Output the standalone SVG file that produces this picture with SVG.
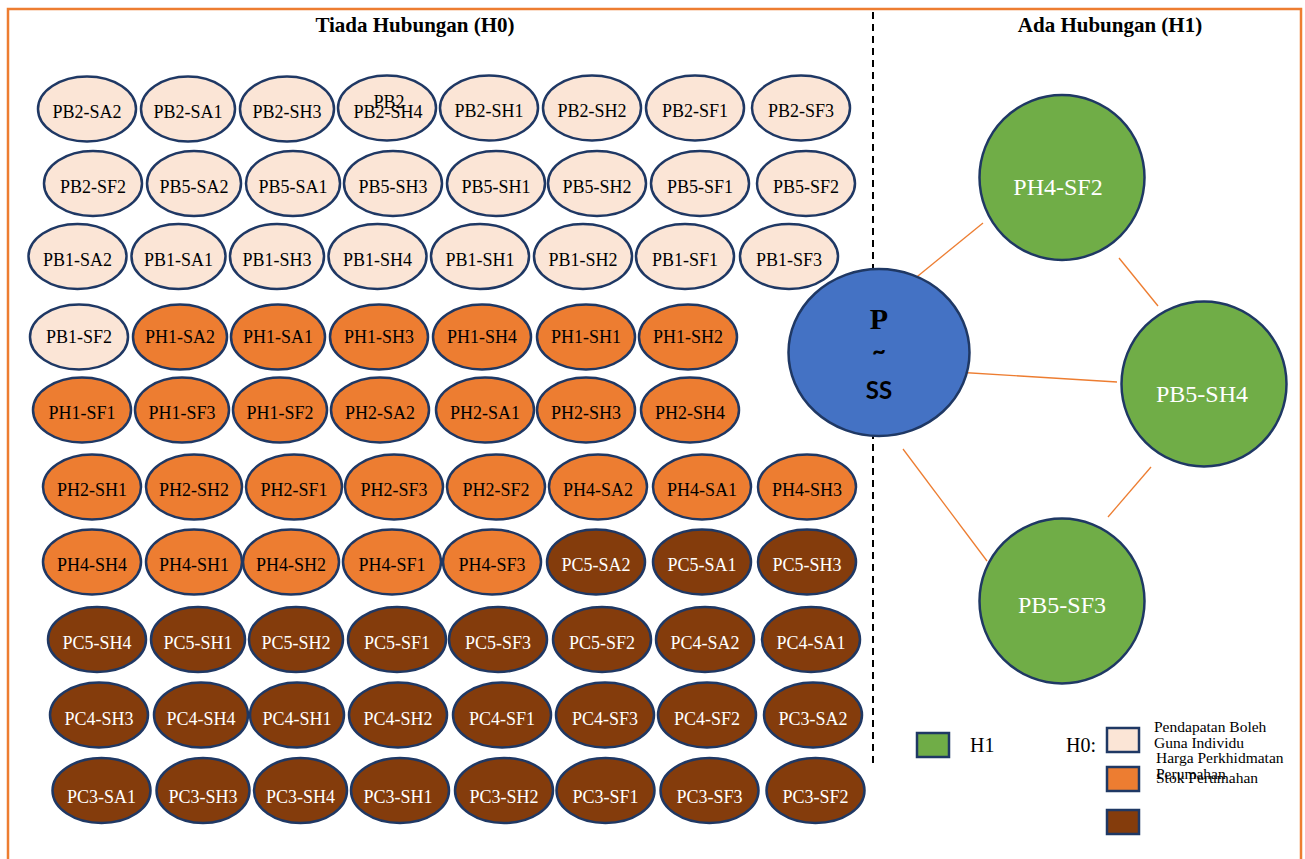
<svg xmlns="http://www.w3.org/2000/svg" width="1305" height="859" viewBox="0 0 1305 859">
<style>
.lt ellipse{fill:#fbe5d6}
.or ellipse{fill:#ed7d31}
.br ellipse{fill:#843c0c}
.n ellipse{stroke:#1f3864;stroke-width:2.5}
.n text{font-family:"Liberation Serif","Times New Roman",serif;font-size:18px;text-anchor:middle;fill:#000}
.br text{fill:#fff}
.g circle{fill:#70ad47;stroke:#1f3864;stroke-width:2.5}
.g text{font-family:"Liberation Serif","Times New Roman",serif;font-size:24px;text-anchor:middle;fill:#fff}
.ttl{font-family:"Liberation Serif","Times New Roman",serif;font-size:21px;font-weight:bold;text-anchor:middle;fill:#000}
.lg{font-family:"Liberation Serif","Times New Roman",serif;font-size:15.5px;fill:#000}
.lgb{font-family:"Liberation Serif","Times New Roman",serif;font-size:20px;fill:#000}
.sq{stroke:#1f3864;stroke-width:2.5}
.conn line{stroke:#ed7d31;stroke-width:1.3}
</style>
<rect x="8" y="9" width="1293" height="862" fill="none" stroke="#ed7d31" stroke-width="2.5"/>
<line x1="873" y1="12" x2="873" y2="766" stroke="#000" stroke-width="2" stroke-dasharray="7 5"/>
<text class="ttl" x="415" y="32">Tiada Hubungan (H0)</text>
<text class="ttl" x="1110" y="32">Ada Hubungan (H1)</text>

<g id="row1">
<g id="n-PB2-SA2" class="n lt"><ellipse cx="87" cy="109" rx="49" ry="32.5"/><text x="87" y="118">PB2-SA2</text></g>
<g id="n-PB2-SA1" class="n lt"><ellipse cx="188" cy="109" rx="47" ry="32.5"/><text x="188" y="118">PB2-SA1</text></g>
<g id="n-PB2-SH3" class="n lt"><ellipse cx="287" cy="109" rx="47" ry="32.5"/><text x="287" y="118">PB2-SH3</text></g>
<g id="n-PB2-SH4" class="n lt"><ellipse cx="387" cy="108" rx="49" ry="32.5"/><text x="389" y="108">PB2</text><text x="388" y="118">PB2-SH4</text></g>
<g id="n-PB2-SH1" class="n lt"><ellipse cx="489" cy="108" rx="49" ry="32.5"/><text x="489" y="117">PB2-SH1</text></g>
<g id="n-PB2-SH2" class="n lt"><ellipse cx="592" cy="108" rx="49" ry="32.5"/><text x="592" y="117">PB2-SH2</text></g>
<g id="n-PB2-SF1" class="n lt"><ellipse cx="695" cy="108" rx="49" ry="32.5"/><text x="695" y="117">PB2-SF1</text></g>
<g id="n-PB2-SF3" class="n lt"><ellipse cx="801" cy="108" rx="49" ry="32.5"/><text x="801" y="117">PB2-SF3</text></g>
</g>

<g id="row2">
<g id="n-PB2-SF2" class="n lt"><ellipse cx="93" cy="183.5" rx="49" ry="32.5"/><text x="93" y="193">PB2-SF2</text></g>
<g id="n-PB5-SA2" class="n lt"><ellipse cx="194" cy="183.5" rx="47" ry="32.5"/><text x="194" y="193">PB5-SA2</text></g>
<g id="n-PB5-SA1" class="n lt"><ellipse cx="293" cy="183.5" rx="47" ry="32.5"/><text x="293" y="193">PB5-SA1</text></g>
<g id="n-PB5-SH3" class="n lt"><ellipse cx="393" cy="183.5" rx="49" ry="32.5"/><text x="393" y="193">PB5-SH3</text></g>
<g id="n-PB5-SH1" class="n lt"><ellipse cx="496" cy="183.5" rx="49" ry="32.5"/><text x="496" y="193">PB5-SH1</text></g>
<g id="n-PB5-SH2" class="n lt"><ellipse cx="597" cy="183.5" rx="49" ry="32.5"/><text x="597" y="193">PB5-SH2</text></g>
<g id="n-PB5-SF1" class="n lt"><ellipse cx="700" cy="183.5" rx="49" ry="32.5"/><text x="700" y="193">PB5-SF1</text></g>
<g id="n-PB5-SF2" class="n lt"><ellipse cx="806" cy="183.5" rx="49" ry="32.5"/><text x="806" y="193">PB5-SF2</text></g>
</g>

<g id="row3">
<g id="n-PB1-SA2" class="n lt"><ellipse cx="77.5" cy="256.5" rx="49" ry="32.5"/><text x="77.5" y="266">PB1-SA2</text></g>
<g id="n-PB1-SA1" class="n lt"><ellipse cx="178.5" cy="256.5" rx="47" ry="32.5"/><text x="178.5" y="266">PB1-SA1</text></g>
<g id="n-PB1-SH3" class="n lt"><ellipse cx="277" cy="256.5" rx="47" ry="32.5"/><text x="277" y="266">PB1-SH3</text></g>
<g id="n-PB1-SH4" class="n lt"><ellipse cx="377.5" cy="256.5" rx="49" ry="32.5"/><text x="377.5" y="266">PB1-SH4</text></g>
<g id="n-PB1-SH1" class="n lt"><ellipse cx="480" cy="256.5" rx="49" ry="32.5"/><text x="480" y="266">PB1-SH1</text></g>
<g id="n-PB1-SH2" class="n lt"><ellipse cx="583" cy="256.5" rx="49" ry="32.5"/><text x="583" y="266">PB1-SH2</text></g>
<g id="n-PB1-SF1" class="n lt"><ellipse cx="685" cy="256.5" rx="49" ry="32.5"/><text x="685" y="266">PB1-SF1</text></g>
<g id="n-PB1-SF3" class="n lt"><ellipse cx="789" cy="256.5" rx="49" ry="32.5"/><text x="789" y="266">PB1-SF3</text></g>
</g>

<g id="row4">
<g id="n-PB1-SF2" class="n lt"><ellipse cx="79" cy="337" rx="49" ry="32.5"/><text x="79" y="343">PB1-SF2</text></g>
<g id="n-PH1-SA2" class="n or"><ellipse cx="180" cy="337" rx="47" ry="32.5"/><text x="180" y="343">PH1-SA2</text></g>
<g id="n-PH1-SA1" class="n or"><ellipse cx="278" cy="337" rx="47" ry="32.5"/><text x="278" y="343">PH1-SA1</text></g>
<g id="n-PH1-SH3" class="n or"><ellipse cx="379" cy="337" rx="49" ry="32.5"/><text x="379" y="343">PH1-SH3</text></g>
<g id="n-PH1-SH4" class="n or"><ellipse cx="482" cy="337" rx="49" ry="32.5"/><text x="482" y="343">PH1-SH4</text></g>
<g id="n-PH1-SH1" class="n or"><ellipse cx="586" cy="337" rx="49" ry="32.5"/><text x="586" y="343">PH1-SH1</text></g>
<g id="n-PH1-SH2" class="n or"><ellipse cx="688" cy="337" rx="49" ry="32.5"/><text x="688" y="343">PH1-SH2</text></g>
</g>

<g id="row5">
<g id="n-PH1-SF1" class="n or"><ellipse cx="82" cy="410" rx="49" ry="32.5"/><text x="82" y="419">PH1-SF1</text></g>
<g id="n-PH1-SF3" class="n or"><ellipse cx="182" cy="410" rx="47" ry="32.5"/><text x="182" y="419">PH1-SF3</text></g>
<g id="n-PH1-SF2" class="n or"><ellipse cx="280" cy="410" rx="47" ry="32.5"/><text x="280" y="419">PH1-SF2</text></g>
<g id="n-PH2-SA2" class="n or"><ellipse cx="380" cy="410" rx="49" ry="32.5"/><text x="380" y="419">PH2-SA2</text></g>
<g id="n-PH2-SA1" class="n or"><ellipse cx="485" cy="410" rx="49" ry="32.5"/><text x="485" y="419">PH2-SA1</text></g>
<g id="n-PH2-SH3" class="n or"><ellipse cx="586" cy="410" rx="49" ry="32.5"/><text x="586" y="419">PH2-SH3</text></g>
<g id="n-PH2-SH4" class="n or"><ellipse cx="690" cy="410" rx="49" ry="32.5"/><text x="690" y="419">PH2-SH4</text></g>
</g>

<g id="row6">
<g id="n-PH2-SH1" class="n or"><ellipse cx="92" cy="487" rx="49" ry="32.5"/><text x="92" y="496">PH2-SH1</text></g>
<g id="n-PH2-SH2" class="n or"><ellipse cx="194" cy="487" rx="48" ry="32.5"/><text x="194" y="496">PH2-SH2</text></g>
<g id="n-PH2-SF1" class="n or"><ellipse cx="294" cy="487" rx="48" ry="32.5"/><text x="294" y="496">PH2-SF1</text></g>
<g id="n-PH2-SF3" class="n or"><ellipse cx="394" cy="487" rx="49" ry="32.5"/><text x="394" y="496">PH2-SF3</text></g>
<g id="n-PH2-SF2" class="n or"><ellipse cx="496" cy="487" rx="49" ry="32.5"/><text x="496" y="496">PH2-SF2</text></g>
<g id="n-PH4-SA2" class="n or"><ellipse cx="598" cy="487" rx="49" ry="32.5"/><text x="598" y="496">PH4-SA2</text></g>
<g id="n-PH4-SA1" class="n or"><ellipse cx="702" cy="487" rx="49" ry="32.5"/><text x="702" y="496">PH4-SA1</text></g>
<g id="n-PH4-SH3" class="n or"><ellipse cx="807" cy="487" rx="49" ry="32.5"/><text x="807" y="496">PH4-SH3</text></g>
</g>

<g id="row7">
<g id="n-PH4-SH4" class="n or"><ellipse cx="92" cy="562" rx="49" ry="32.5"/><text x="92" y="571">PH4-SH4</text></g>
<g id="n-PH4-SH1" class="n or"><ellipse cx="194" cy="562" rx="48" ry="32.5"/><text x="194" y="571">PH4-SH1</text></g>
<g id="n-PH4-SH2" class="n or"><ellipse cx="291" cy="562" rx="48" ry="32.5"/><text x="291" y="571">PH4-SH2</text></g>
<g id="n-PH4-SF1" class="n or"><ellipse cx="392" cy="562" rx="49" ry="32.5"/><text x="392" y="571">PH4-SF1</text></g>
<g id="n-PH4-SF3" class="n or"><ellipse cx="492" cy="562" rx="49" ry="32.5"/><text x="492" y="571">PH4-SF3</text></g>
<g id="n-PC5-SA2" class="n br"><ellipse cx="596" cy="562" rx="49" ry="32.5"/><text x="596" y="571">PC5-SA2</text></g>
<g id="n-PC5-SA1" class="n br"><ellipse cx="702" cy="562" rx="49" ry="32.5"/><text x="702" y="571">PC5-SA1</text></g>
<g id="n-PC5-SH3" class="n br"><ellipse cx="807" cy="562" rx="49" ry="32.5"/><text x="807" y="571">PC5-SH3</text></g>
</g>

<g id="row8">
<g id="n-PC5-SH4" class="n br"><ellipse cx="97" cy="639.5" rx="49" ry="32.5"/><text x="97" y="649">PC5-SH4</text></g>
<g id="n-PC5-SH1" class="n br"><ellipse cx="198" cy="639.5" rx="47" ry="32.5"/><text x="198" y="649">PC5-SH1</text></g>
<g id="n-PC5-SH2" class="n br"><ellipse cx="296" cy="639.5" rx="47" ry="32.5"/><text x="296" y="649">PC5-SH2</text></g>
<g id="n-PC5-SF1" class="n br"><ellipse cx="397" cy="639.5" rx="49" ry="32.5"/><text x="397" y="649">PC5-SF1</text></g>
<g id="n-PC5-SF3" class="n br"><ellipse cx="498" cy="639.5" rx="49" ry="32.5"/><text x="498" y="649">PC5-SF3</text></g>
<g id="n-PC5-SF2" class="n br"><ellipse cx="602" cy="639.5" rx="49" ry="32.5"/><text x="602" y="649">PC5-SF2</text></g>
<g id="n-PC4-SA2" class="n br"><ellipse cx="705" cy="639.5" rx="49" ry="32.5"/><text x="705" y="649">PC4-SA2</text></g>
<g id="n-PC4-SA1" class="n br"><ellipse cx="811" cy="639.5" rx="49" ry="32.5"/><text x="811" y="649">PC4-SA1</text></g>
</g>

<g id="row9">
<g id="n-PC4-SH3" class="n br"><ellipse cx="99" cy="715" rx="49" ry="32.5"/><text x="99" y="725">PC4-SH3</text></g>
<g id="n-PC4-SH4" class="n br"><ellipse cx="201" cy="715" rx="47" ry="32.5"/><text x="201" y="725">PC4-SH4</text></g>
<g id="n-PC4-SH1" class="n br"><ellipse cx="297" cy="715" rx="47" ry="32.5"/><text x="297" y="725">PC4-SH1</text></g>
<g id="n-PC4-SH2" class="n br"><ellipse cx="398" cy="715" rx="49" ry="32.5"/><text x="398" y="725">PC4-SH2</text></g>
<g id="n-PC4-SF1" class="n br"><ellipse cx="502" cy="715" rx="49" ry="32.5"/><text x="502" y="725">PC4-SF1</text></g>
<g id="n-PC4-SF3" class="n br"><ellipse cx="605" cy="715" rx="49" ry="32.5"/><text x="605" y="725">PC4-SF3</text></g>
<g id="n-PC4-SF2" class="n br"><ellipse cx="707" cy="715" rx="49" ry="32.5"/><text x="707" y="725">PC4-SF2</text></g>
<g id="n-PC3-SA2" class="n br"><ellipse cx="813" cy="715" rx="49" ry="32.5"/><text x="813" y="725">PC3-SA2</text></g>
</g>

<g id="row10">
<g id="n-PC3-SA1" class="n br"><ellipse cx="101.5" cy="790.5" rx="49" ry="32.5"/><text x="101.5" y="803">PC3-SA1</text></g>
<g id="n-PC3-SH3" class="n br"><ellipse cx="203" cy="790.5" rx="46.5" ry="32.5"/><text x="203" y="803">PC3-SH3</text></g>
<g id="n-PC3-SH4" class="n br"><ellipse cx="300.5" cy="790.5" rx="46.5" ry="32.5"/><text x="300.5" y="803">PC3-SH4</text></g>
<g id="n-PC3-SH1" class="n br"><ellipse cx="400" cy="790.5" rx="49" ry="32.5"/><text x="398" y="803">PC3-SH1</text></g>
<g id="n-PC3-SH2" class="n br"><ellipse cx="504" cy="790.5" rx="49" ry="32.5"/><text x="504" y="803">PC3-SH2</text></g>
<g id="n-PC3-SF1" class="n br"><ellipse cx="605.5" cy="790.5" rx="49" ry="32.5"/><text x="605.5" y="803">PC3-SF1</text></g>
<g id="n-PC3-SF3" class="n br"><ellipse cx="709.5" cy="790.5" rx="49" ry="32.5"/><text x="709.5" y="803">PC3-SF3</text></g>
<g id="n-PC3-SF2" class="n br"><ellipse cx="815.5" cy="790.5" rx="49" ry="32.5"/><text x="815.5" y="803">PC3-SF2</text></g>
</g>

<g id="connectors" class="conn">
<line x1="913" y1="280" x2="983" y2="223"/>
<line x1="1119" y1="258" x2="1158" y2="306"/>
<line x1="955" y1="372" x2="1117" y2="382"/>
<line x1="1151" y1="467" x2="1108" y2="517"/>
<line x1="903" y1="449" x2="987" y2="561"/>
</g>

<g id="n-P-SS">
<ellipse cx="879" cy="352.5" rx="90.5" ry="83.5" fill="#4472c4" stroke="#1f3864" stroke-width="2.5"/>
<text x="879" y="329" font-family="Liberation Serif, serif" font-size="30" font-weight="bold" text-anchor="middle" fill="#000">P</text>
<text x="879" y="360" font-family="Lato, sans-serif" font-size="24" font-weight="bold" text-anchor="middle" fill="#000">~</text>
<text x="879" y="399" font-family="Lato, sans-serif" font-size="24" font-weight="bold" text-anchor="middle" fill="#000">SS</text>
</g>
<g id="n-PH4-SF2" class="g"><circle cx="1062" cy="177.5" r="82.5"/><text x="1058" y="195">PH4-SF2</text></g>
<g id="n-PB5-SH4" class="g"><circle cx="1204" cy="384" r="82.5"/><text x="1202" y="402">PB5-SH4</text></g>
<g id="n-PB5-SF3" class="g"><circle cx="1062" cy="601" r="82.5"/><text x="1062" y="613">PB5-SF3</text></g>

<g id="legend">
<rect class="sq" x="917" y="733" width="32" height="24" fill="#70ad47"/>
<text class="lgb" x="970" y="752">H1</text>
<text class="lgb" x="1066" y="752">H0:</text>
<rect class="sq" x="1107" y="728" width="32" height="24" fill="#fbe5d6"/>
<rect class="sq" x="1107" y="767" width="32" height="24" fill="#ed7d31"/>
<rect class="sq" x="1107" y="810" width="32" height="24" fill="#843c0c"/>
<text class="lg" x="1154" y="732">Pendapatan Boleh</text>
<text class="lg" x="1154" y="748">Guna Individu</text>
<text class="lg" x="1156" y="763">Harga Perkhidmatan</text>
<text class="lg" x="1156" y="779">Perumahan</text>
<text class="lg" x="1156" y="783">Stok Perumahan</text>
</g>
</svg>
